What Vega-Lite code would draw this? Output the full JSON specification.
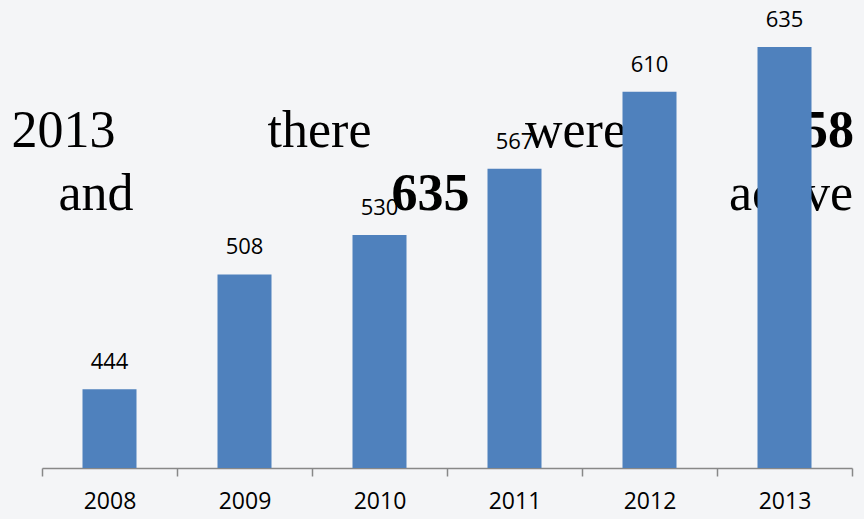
{
  "$schema": "https://vega.github.io/schema/vega-lite/v6.json",
  "width": 810,
  "height": 448,
  "autosize": "none",
  "padding": {"left": 42, "top": 20, "right": 12, "bottom": 51},
  "background": "#f4f5f7",
  "config": {"view": {"stroke": null}},
  "datasets": {
    "bars": [
      {"year": "2008", "count": 444},
      {"year": "2009", "count": 508},
      {"year": "2010", "count": 530},
      {"year": "2011", "count": 567},
      {"year": "2012", "count": 610},
      {"year": "2013", "count": 635}
    ],
    "words": [
      {"word": "2013", "pos": 0.0265, "level": 579, "bold": false},
      {"word": "there", "pos": 0.3426, "level": 579, "bold": false},
      {"word": "were", "pos": 0.6586, "level": 579, "bold": false},
      {"word": "158", "pos": 0.9543, "level": 579, "bold": true},
      {"word": "and", "pos": 0.0667, "level": 544, "bold": false},
      {"word": "635", "pos": 0.4796, "level": 544, "bold": true},
      {"word": "active", "pos": 0.9247, "level": 544, "bold": false}
    ]
  },
  "layer": [
    {
      "data": {"name": "bars"},
      "mark": {"type": "text", "font": "Open Sans", "fontSize": 22, "color": "#000000", "baseline": "alphabetic", "dy": -20},
      "encoding": {
        "x": {"field": "year", "type": "nominal", "scale": {"paddingInner": 0, "paddingOuter": 0}, "axis": null},
        "y": {"field": "count", "type": "quantitative", "scale": {"domain": [400, 650], "zero": false, "nice": false}, "axis": null},
        "text": {"field": "count", "type": "quantitative"}
      }
    },
    {
      "data": {"name": "words"},
      "transform": [{"filter": "!datum.bold"}],
      "mark": {"type": "text", "font": "Liberation Serif", "fontSize": 52, "color": "#000000", "baseline": "alphabetic", "align": "center"},
      "encoding": {
        "x": {"field": "pos", "type": "quantitative", "scale": {"domain": [0, 1], "nice": false, "zero": false}, "axis": null},
        "y": {"field": "level", "type": "quantitative", "scale": {"domain": [400, 650], "zero": false, "nice": false}, "axis": null},
        "text": {"field": "word"}
      }
    },
    {
      "data": {"name": "words"},
      "transform": [{"filter": "datum.bold"}],
      "mark": {"type": "text", "font": "Liberation Serif", "fontSize": 52, "fontWeight": "bold", "color": "#000000", "baseline": "alphabetic", "align": "center"},
      "encoding": {
        "x": {"field": "pos", "type": "quantitative", "scale": {"domain": [0, 1], "nice": false, "zero": false}, "axis": null},
        "y": {"field": "level", "type": "quantitative", "scale": {"domain": [400, 650], "zero": false, "nice": false}, "axis": null},
        "text": {"field": "word"}
      }
    },
    {
      "data": {"name": "bars"},
      "mark": {"type": "bar", "color": "#4f81bd", "clip": true, "width": {"band": 0.4}},
      "encoding": {
        "x": {
          "field": "year", "type": "nominal", "title": null,
          "scale": {"paddingInner": 0, "paddingOuter": 0},
          "axis": {
            "labelAngle": 0, "labelFont": "Open Sans", "labelFontSize": 23, "labelColor": "#000000",
            "domainColor": "#888888", "domainWidth": 1.5, "tickColor": "#888888", "tickWidth": 1.5,
            "tickSize": 8, "tickBand": "extent", "labelPadding": 14, "grid": false
          }
        },
        "y": {"field": "count", "type": "quantitative", "scale": {"domain": [400, 650], "zero": false, "nice": false}, "axis": null}
      }
    }
  ],
  "resolve": {"scale": {"x": "independent"}}
}
